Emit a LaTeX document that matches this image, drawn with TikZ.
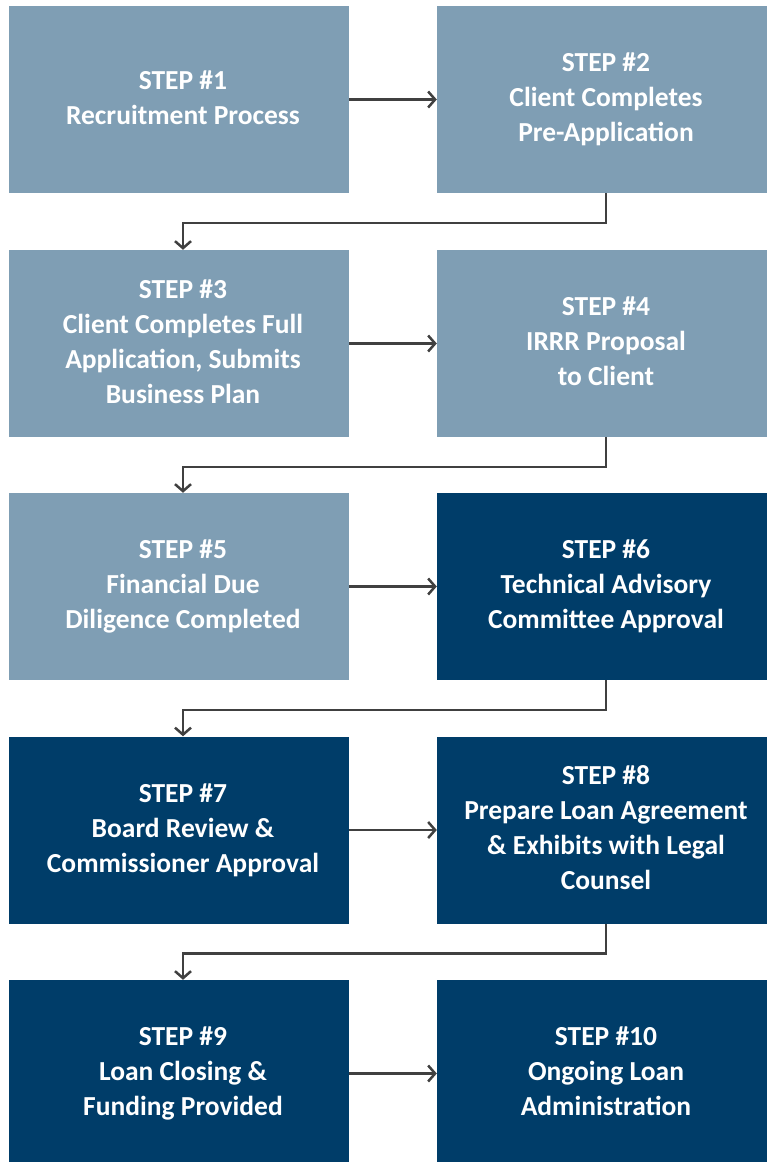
\documentclass[tikz,border=0pt]{standalone}
\usepackage{fontspec}
\setmainfont{Carlito}
\usetikzlibrary{arrows.meta,calc}
\definecolor{lightbox}{HTML}{7F9EB4}
\definecolor{darkbox}{HTML}{003D69}
\definecolor{conn}{HTML}{404040}
\newcommand{\steptext}[1]{\hspace*{8pt}\begin{tabular}{@{}c@{}}#1\end{tabular}}
\tikzset{
  x=1pt,y=-1pt,
  lbox/.style={fill=lightbox,draw=none,minimum width=340pt,minimum height=187pt,inner sep=0pt,
    text=white,align=center,font=\bfseries\fontsize{27.5}{35}\selectfont},
  rbox/.style={lbox,minimum width=330pt},
  dark/.style={fill=darkbox},
  link/.style={draw=conn,line width=2.5pt,-{Straight Barb[length=7pt,width=16pt,line width=2.5pt]}},
}
\begin{document}
\begin{tikzpicture}
\useasboundingbox (0,0) rectangle (767,1162);
\begin{scope}
\clip (0,0) rectangle (767,1162);
\node[lbox] (s1) at (179,99.5) {\steptext{STEP \#1\\Recruitment Process}};
\node[rbox] (s2) at (602,99.5) {\steptext{STEP \#2\\Client Completes\\Pre-Application}};
\node[lbox] (s3) at (179,343.5) {\steptext{STEP \#3\\Client Completes Full\\Application, Submits\\Business Plan}};
\node[rbox] (s4) at (602,343.5) {\steptext{STEP \#4\\IRRR Proposal\\to Client}};
\node[lbox] (s5) at (179,586.5) {\steptext{STEP \#5\\Financial Due\\Diligence Completed}};
\node[rbox,dark] (s6) at (602,586.5) {\steptext{STEP \#6\\Technical Advisory\\Committee Approval}};
\node[lbox,dark] (s7) at (179,830) {\steptext{STEP \#7\\Board Review \&\\Commissioner Approval}};
\node[rbox,dark] (s8) at (602,830) {\steptext{STEP \#8\\Prepare Loan Agreement\\\& Exhibits with Legal\\Counsel}};
\node[lbox,dark] (s9) at (179,1073.5) {\steptext{STEP \#9\\Loan Closing \&\\Funding Provided}};
\node[rbox,dark] (s10) at (602,1073.5) {\steptext{STEP \#10\\Ongoing Loan\\Administration}};
\end{scope}
\draw[link] (s1.east) -- (s2.west);
\draw[link] (s3.east) -- (s4.west);
\draw[link] (s5.east) -- (s6.west);
\draw[link] (s7.east) -- (s8.west);
\draw[link] (s9.east) -- (s10.west);
\draw[link] ($(s2.south)+(4,0)$) -- ++(0,30) -| ($(s3.north)+(4,0)$);
\draw[link] ($(s4.south)+(4,0)$) -- ++(0,30) -| ($(s5.north)+(4,0)$);
\draw[link] ($(s6.south)+(4,0)$) -- ++(0,30) -| ($(s7.north)+(4,0)$);
\draw[link] ($(s8.south)+(4,0)$) -- ++(0,30) -| ($(s9.north)+(4,0)$);
\end{tikzpicture}
\end{document}
